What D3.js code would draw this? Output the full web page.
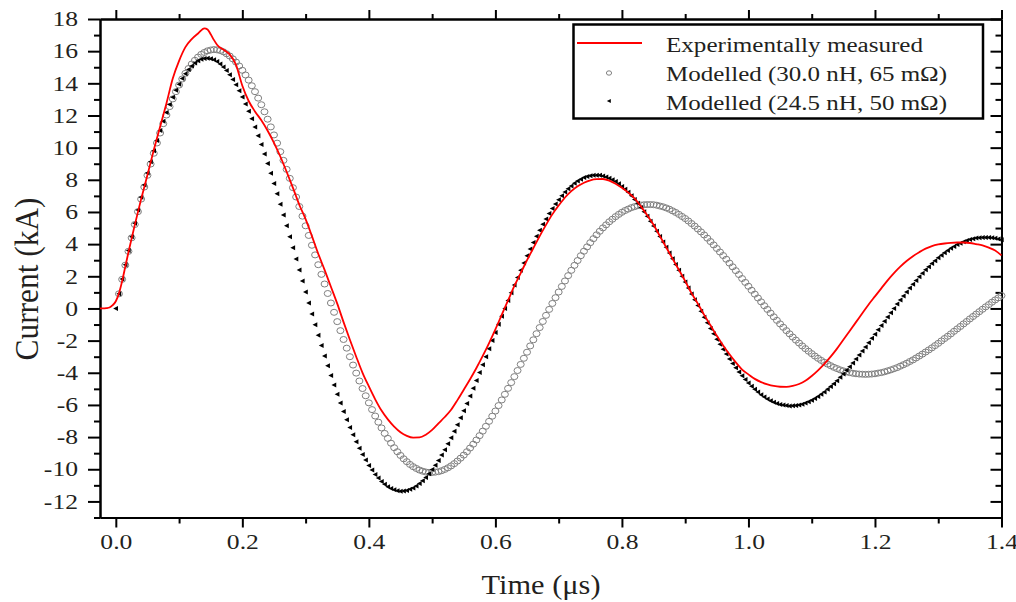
<!DOCTYPE html>
<html>
<head>
<meta charset="utf-8">
<script src="https://cdn.jsdelivr.net/npm/d3@7/dist/d3.min.js"></script>
<style>
body { margin: 0; background: #fff; }
svg { display: block; }
text { font-family: "Liberation Serif", "Times New Roman", serif; fill: #231f20; }
</style>
</head>
<body>
<script>
// modelled current, 30.0 nH / 65 mOhm (kA), one value every 0.005 us from t = 0
var modelA = [
  0,0.91,1.81,2.69,3.55,4.39,5.22,6.02,6.80,7.55,8.28,8.98,9.65,10.29,10.91,11.49,12.03,12.55,13.03,13.48,
  13.89,14.27,14.62,14.92,15.20,15.43,15.63,15.80,15.92,16.02,16.07,16.10,16.08,16.04,15.96,15.84,15.70,15.52,15.32,15.08,
  14.81,14.52,14.20,13.85,13.48,13.08,12.67,12.23,11.77,11.29,10.79,10.28,9.75,9.21,8.65,8.09,7.51,6.93,6.34,5.74,
  5.14,4.54,3.93,3.33,2.72,2.12,1.52,0.93,0.34,-0.24,-0.82,-1.38,-1.93,-2.47,-3.00,-3.52,-4.02,-4.51,-4.98,-5.43,
  -5.87,-6.29,-6.69,-7.07,-7.43,-7.77,-8.08,-8.38,-8.66,-8.91,-9.14,-9.35,-9.53,-9.70,-9.84,-9.95,-10.05,-10.12,-10.17,-10.20,
  -10.20,-10.18,-10.15,-10.09,-10.01,-9.91,-9.79,-9.65,-9.49,-9.31,-9.12,-8.91,-8.68,-8.44,-8.18,-7.91,-7.63,-7.33,-7.02,-6.70,
  -6.38,-6.04,-5.69,-5.34,-4.97,-4.61,-4.24,-3.86,-3.48,-3.10,-2.72,-2.33,-1.95,-1.57,-1.19,-0.81,-0.43,-0.06,0.31,0.67,
  1.02,1.37,1.71,2.04,2.37,2.68,2.98,3.28,3.56,3.83,4.09,4.34,4.58,4.80,5.01,5.20,5.39,5.55,5.71,5.85,
  5.98,6.09,6.18,6.27,6.33,6.39,6.43,6.45,6.46,6.46,6.45,6.42,6.37,6.32,6.25,6.17,6.07,5.97,5.85,5.72,
  5.59,5.44,5.28,5.12,4.94,4.76,4.57,4.37,4.16,3.95,3.73,3.51,3.29,3.06,2.82,2.59,2.35,2.11,1.86,1.62,
  1.38,1.13,0.89,0.65,0.41,0.17,-0.06,-0.29,-0.52,-0.74,-0.96,-1.17,-1.38,-1.58,-1.78,-1.97,-2.15,-2.33,-2.50,-2.66,
  -2.81,-2.96,-3.10,-3.23,-3.35,-3.46,-3.56,-3.66,-3.74,-3.82,-3.88,-3.94,-3.99,-4.03,-4.06,-4.08,-4.09,-4.10,-4.09,-4.08,
  -4.06,-4.02,-3.99,-3.94,-3.88,-3.82,-3.75,-3.68,-3.59,-3.50,-3.41,-3.30,-3.20,-3.08,-2.96,-2.84,-2.71,-2.58,-2.45,-2.31,
  -2.17,-2.02,-1.87,-1.73,-1.58,-1.42,-1.27,-1.12,-0.96,-0.81,-0.65,-0.50,-0.35,-0.20,-0.05,0.10,0.24,0.39,0.53,0.66,
  0.80
];

// modelled current, 24.5 nH / 50 mOhm (kA), same time grid
var modelB = [
  0,0.92,1.83,2.72,3.60,4.46,5.30,6.12,6.91,7.68,8.42,9.13,9.80,10.45,11.06,11.64,12.18,12.68,13.14,13.57,
  13.95,14.30,14.60,14.86,15.08,15.26,15.40,15.49,15.55,15.56,15.53,15.46,15.35,15.20,15.02,14.79,14.53,14.24,13.91,13.54,
  13.15,12.72,12.27,11.79,11.28,10.74,10.19,9.61,9.02,8.40,7.77,7.13,6.48,5.81,5.14,4.46,3.77,3.08,2.39,1.70,
  1.02,0.34,-0.34,-1.01,-1.67,-2.31,-2.95,-3.57,-4.17,-4.76,-5.33,-5.88,-6.41,-6.92,-7.40,-7.86,-8.29,-8.70,-9.08,-9.43,
  -9.76,-10.05,-10.32,-10.55,-10.76,-10.94,-11.08,-11.20,-11.28,-11.34,-11.36,-11.35,-11.32,-11.25,-11.16,-11.04,-10.89,-10.71,-10.51,-10.28,
  -10.02,-9.75,-9.45,-9.12,-8.78,-8.42,-8.04,-7.64,-7.23,-6.80,-6.36,-5.91,-5.44,-4.97,-4.48,-3.99,-3.50,-3.00,-2.50,-2.00,
  -1.49,-0.99,-0.49,0.00,0.50,0.98,1.46,1.92,2.38,2.83,3.27,3.69,4.10,4.49,4.87,5.23,5.57,5.90,6.21,6.49,
  6.76,7.01,7.24,7.44,7.62,7.79,7.92,8.04,8.14,8.21,8.26,8.29,8.29,8.28,8.24,8.18,8.10,8.01,7.89,7.75,
  7.59,7.41,7.22,7.01,6.78,6.54,6.28,6.01,5.73,5.43,5.12,4.80,4.48,4.14,3.80,3.45,3.09,2.73,2.37,2.01,
  1.64,1.27,0.90,0.54,0.18,-0.18,-0.54,-0.89,-1.24,-1.57,-1.91,-2.23,-2.54,-2.84,-3.14,-3.42,-3.69,-3.95,-4.19,-4.42,
  -4.64,-4.84,-5.03,-5.20,-5.36,-5.50,-5.63,-5.74,-5.83,-5.91,-5.97,-6.01,-6.04,-6.06,-6.05,-6.03,-6.00,-5.95,-5.88,-5.80,
  -5.71,-5.60,-5.48,-5.34,-5.19,-5.03,-4.86,-4.68,-4.49,-4.28,-4.07,-3.85,-3.62,-3.39,-3.15,-2.90,-2.65,-2.39,-2.13,-1.86,
  -1.60,-1.33,-1.06,-0.79,-0.53,-0.26,0.00,0.27,0.52,0.78,1.03,1.27,1.51,1.74,1.97,2.19,2.40,2.60,2.79,2.97,
  3.15,3.31,3.46,3.61,3.74,3.86,3.97,4.06,4.15,4.23,4.29,4.34,4.38,4.40,4.42,4.42,4.41,4.39,4.36,4.32,
  4.27
];
var simStep = 0.005;

// experimentally measured current: [time us, current kA]
var measured = [
  [-0.025,0],[-0.02,0],[-0.015,0.02],[-0.01,0.06],[-0.005,0.2],[0,0.45],[0.005,0.95],[0.01,1.7],[0.015,2.6],
  [0.02,3.5],[0.03,5.2],[0.04,6.8],[0.05,8.3],[0.06,9.85],[0.07,11.3],[0.08,12.75],[0.09,14.3],[0.10,15.4],
  [0.11,16.25],[0.12,16.75],[0.13,17.1],[0.14,17.42],[0.145,17.35],[0.15,17.05],[0.155,16.7],[0.16,16.4],
  [0.17,16.1],[0.18,15.8],[0.19,15.15],[0.20,13.85],[0.21,12.9],[0.22,12.25],[0.23,11.7],[0.24,11.05],
  [0.25,10.3],[0.26,9.45],[0.27,8.5],[0.28,7.5],[0.29,6.45],[0.30,5.55],[0.31,4.5],[0.32,3.4],[0.33,2.4],
  [0.34,1.35],[0.35,0.3],[0.36,-0.85],[0.37,-1.95],[0.38,-3.0],[0.39,-4.0],[0.40,-4.85],[0.41,-5.65],
  [0.42,-6.35],[0.43,-6.9],[0.44,-7.35],[0.45,-7.7],[0.46,-7.92],[0.47,-8.03],[0.48,-8.02],[0.49,-7.85],
  [0.50,-7.55],[0.51,-7.15],[0.52,-6.75],[0.53,-6.3],[0.54,-5.7],[0.55,-5.05],[0.56,-4.4],[0.57,-3.7],
  [0.58,-2.95],[0.59,-2.15],[0.60,-1.3],[0.61,-0.4],[0.62,0.5],[0.63,1.4],[0.64,2.2],[0.65,3.0],[0.66,3.75],
  [0.67,4.5],[0.68,5.2],[0.69,5.85],[0.70,6.4],[0.71,6.9],[0.72,7.3],[0.73,7.6],[0.74,7.82],[0.75,7.97],
  [0.76,8.04],[0.77,8.05],[0.78,7.95],[0.79,7.75],[0.80,7.5],[0.81,7.2],[0.82,6.85],[0.83,6.35],[0.84,5.8],
  [0.85,5.2],[0.86,4.5],[0.87,3.8],[0.88,3.1],[0.89,2.4],[0.90,1.7],[0.91,0.95],[0.92,0.3],[0.93,-0.4],
  [0.94,-1.05],[0.95,-1.7],[0.96,-2.3],[0.97,-2.85],[0.98,-3.35],[0.99,-3.8],[1.00,-4.1],[1.01,-4.38],
  [1.02,-4.58],[1.03,-4.72],[1.04,-4.82],[1.05,-4.87],[1.06,-4.88],[1.07,-4.82],[1.08,-4.7],[1.09,-4.5],
  [1.10,-4.2],[1.11,-3.85],[1.12,-3.45],[1.13,-3.0],[1.14,-2.5],[1.15,-1.95],[1.16,-1.4],[1.17,-0.85],
  [1.18,-0.3],[1.19,0.25],[1.20,0.75],[1.21,1.25],[1.22,1.75],[1.23,2.2],[1.24,2.6],[1.25,2.95],[1.26,3.25],
  [1.27,3.5],[1.28,3.72],[1.29,3.88],[1.30,3.98],[1.31,4.04],[1.32,4.08],[1.33,4.1],[1.34,4.1],[1.35,4.07],
  [1.36,4.0],[1.37,3.92],[1.38,3.78],[1.39,3.6],[1.40,3.3]
];

var xMajor = [0, 0.2, 0.4, 0.6, 0.8, 1.0, 1.2, 1.4],
    xMinor = [0.1, 0.3, 0.5, 0.7, 0.9, 1.1, 1.3],
    yMajor = [-12, -10, -8, -6, -4, -2, 0, 2, 4, 6, 8, 10, 12, 14, 16, 18],
    yMinor = [-13, -11, -9, -7, -5, -3, -1, 1, 3, 5, 7, 9, 11, 13, 15, 17];

var legendNames = ["Experimentally measured", "Modelled (30.0 nH, 65 m\u03A9)", "Modelled (24.5 nH, 50 m\u03A9)"];

var width = 1016,
    height = 602,
    stretch = 1.22;

var svg = d3.select("body").append("svg")
    .attr("width", width)
    .attr("height", height);

var x = d3.scaleLinear().domain([-0.025, 1.4]).range([100, 1001.5]),
    y = d3.scaleLinear().domain([-13, 18]).range([517.5, 19]);

// the original picture is a little wider than tall, so text is drawn wider
function widen(sel){
  sel.each(function(){
    var w = this.getComputedTextLength();
    d3.select(this).attr("textLength", w * stretch).attr("lengthAdjust", "spacingAndGlyphs");
  });
}

function styleAxis(g){
  g.select(".domain").attr("stroke", "#000").attr("stroke-width", 2);
  g.selectAll(".tick line").attr("stroke", "#000").attr("stroke-width", 2);
}

// bottom
svg.append("g").attr("transform", "translate(0,517.5)")
    .call(d3.axisBottom(x).tickValues(xMinor).tickSize(6).tickSizeOuter(0).tickFormat(""))
    .call(styleAxis);
var xAxisG = svg.append("g").attr("transform", "translate(0,517.5)")
    .call(d3.axisBottom(x).tickValues(xMajor).tickSize(10).tickSizeOuter(0).tickPadding(7).tickFormat(d3.format(".1f")))
    .call(styleAxis);

// top
svg.append("g").attr("transform", "translate(0,19)")
    .call(d3.axisTop(x).tickValues(xMinor).tickSize(5).tickSizeOuter(0).tickFormat(""))
    .call(styleAxis);
svg.append("g").attr("transform", "translate(0,19)")
    .call(d3.axisTop(x).tickValues(xMajor).tickSize(9).tickSizeOuter(0).tickFormat(""))
    .call(styleAxis);

// left
svg.append("g").attr("transform", "translate(100,0)")
    .call(d3.axisLeft(y).tickValues(yMinor).tickSize(6).tickSizeOuter(0).tickFormat(""))
    .call(styleAxis);
var yAxisG = svg.append("g").attr("transform", "translate(100,0)")
    .call(d3.axisLeft(y).tickValues(yMajor).tickSize(12).tickSizeOuter(0).tickPadding(10).tickFormat(function(d){ return String(d); }))
    .call(styleAxis);

// right, ticks pointing in
svg.append("g").attr("transform", "translate(1001.5,0)")
    .call(d3.axisRight(y).tickValues(yMinor).tickSize(-6).tickSizeOuter(0).tickFormat(""))
    .call(styleAxis);
svg.append("g").attr("transform", "translate(1001.5,0)")
    .call(d3.axisRight(y).tickValues(yMajor).tickSize(-11).tickSizeOuter(0).tickFormat(""))
    .call(styleAxis);

xAxisG.selectAll("text").attr("font-size", 21).attr("font-family", null).attr("fill", "#231f20").call(widen);
yAxisG.selectAll("text").attr("font-size", 21).attr("font-family", null).attr("fill", "#231f20").call(widen);

svg.append("text")
    .attr("x", 541).attr("y", 594)
    .attr("text-anchor", "middle")
    .attr("font-size", 27)
    .attr("textLength", 119).attr("lengthAdjust", "spacingAndGlyphs")
    .text("Time (\u03BCs)");

svg.append("text")
    .attr("transform", "translate(38,279) scale(1.25,1) rotate(-90)")
    .attr("text-anchor", "middle")
    .attr("font-size", 27)
    .attr("textLength", 163).attr("lengthAdjust", "spacingAndGlyphs")
    .text("Current (kA)");

// series
var ptsA = modelA.map(function(v, i){ return {t: i * simStep, v: v}; }).filter(function(d){ return d.t > 0; });
var ptsB = modelB.map(function(v, i){ return {t: i * simStep, v: v}; });

svg.append("g").selectAll("ellipse")
    .data(ptsA)
    .enter().append("ellipse")
    .attr("cx", function(d){ return x(d.t); })
    .attr("cy", function(d){ return y(d.v); })
    .attr("rx", 3.5).attr("ry", 3)
    .attr("fill", "none")
    .attr("stroke", "#808080")
    .attr("stroke-width", 1);

var triPath = "M-2.6,0L2.2,-2.5L2.2,2.5Z";
svg.append("g").selectAll("path")
    .data(ptsB)
    .enter().append("path")
    .attr("d", triPath)
    .attr("transform", function(d){ return "translate(" + x(d.t) + "," + y(d.v) + ")"; })
    .attr("fill", "#000");

var line = d3.line()
    .x(function(d){ return x(d[0]); })
    .y(function(d){ return y(d[1]); })
    .curve(d3.curveMonotoneX);

svg.append("path")
    .datum(measured)
    .attr("d", line)
    .attr("fill", "none")
    .attr("stroke", "#ff0000")
    .attr("stroke-width", 1.8);

// legend
var legend = svg.append("g");
legend.append("rect")
    .attr("x", 573.5).attr("y", 24.5)
    .attr("width", 409.5).attr("height", 94)
    .attr("fill", "#fff")
    .attr("stroke", "#000")
    .attr("stroke-width", 2.5);

legend.append("line")
    .attr("x1", 577).attr("x2", 642).attr("y1", 43).attr("y2", 43)
    .attr("stroke", "#ff0000").attr("stroke-width", 1.8);
legend.append("ellipse")
    .attr("cx", 609).attr("cy", 73).attr("rx", 2.6).attr("ry", 2.2)
    .attr("fill", "none").attr("stroke", "#808080").attr("stroke-width", 1);
legend.append("path")
    .attr("d", "M-2.2,0L1.8,-2L1.8,2Z")
    .attr("transform", "translate(609,101)")
    .attr("fill", "#000");

var legendLen = [257, 281, 281];
legend.selectAll("text.lbl")
    .data(legendNames)
    .enter().append("text")
    .attr("class", "lbl")
    .attr("x", 666)
    .attr("y", function(d, i){ return 52 + i * 29; })
    .attr("font-size", 20)
    .attr("textLength", function(d, i){ return legendLen[i]; })
    .attr("lengthAdjust", "spacingAndGlyphs")
    .text(function(d){ return d; });
</script>
</body>
</html>
